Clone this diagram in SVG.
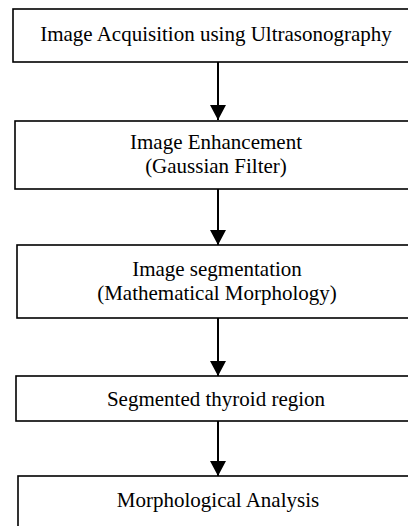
<svg xmlns="http://www.w3.org/2000/svg" width="408" height="526" viewBox="0 0 408 526">
<style>
.box{fill:#fff;stroke:#000;stroke-width:1.6}
.t{font-family:"Liberation Serif","Times New Roman",serif;font-size:21px;fill:#000;text-anchor:middle}
.c{stroke:#000;stroke-width:2;fill:none}
</style>
<defs>
<marker id="ah" markerUnits="userSpaceOnUse" markerWidth="16" markerHeight="16" viewBox="0 0 16 16" refX="15" refY="8" orient="auto">
<path d="M0,0 L15,8 L0,16 Z" fill="#000"/>
</marker>
</defs>
<rect width="408" height="526" fill="#fff"/>
<g id="n1"><rect class="box" x="13" y="9" width="410" height="53"/><text class="t" x="216" y="41">Image Acquisition using Ultrasonography</text></g>
<g id="n2"><rect class="box" x="15" y="121" width="410" height="68"/><text class="t" x="216" y="149">Image Enhancement</text><text class="t" x="216" y="173">(Gaussian Filter)</text></g>
<g id="n3"><rect class="box" x="17" y="245" width="410" height="73"/><text class="t" x="217" y="276">Image segmentation</text><text class="t" x="217" y="300">(Mathematical Morphology)</text></g>
<g id="n4"><rect class="box" x="16" y="376" width="410" height="45"/><text class="t" x="216" y="406">Segmented thyroid region</text></g>
<g id="n5"><rect class="box" x="18" y="476" width="410" height="70"/><text class="t" x="218" y="507">Morphological Analysis</text></g>
<g id="connectors">
<line class="c" x1="218" y1="62" x2="218" y2="120" marker-end="url(#ah)"/>
<line class="c" x1="218" y1="189" x2="218" y2="245" marker-end="url(#ah)"/>
<line class="c" x1="218" y1="318" x2="218" y2="376" marker-end="url(#ah)"/>
<line class="c" x1="218" y1="421" x2="218" y2="476" marker-end="url(#ah)"/>
</g>
</svg>
